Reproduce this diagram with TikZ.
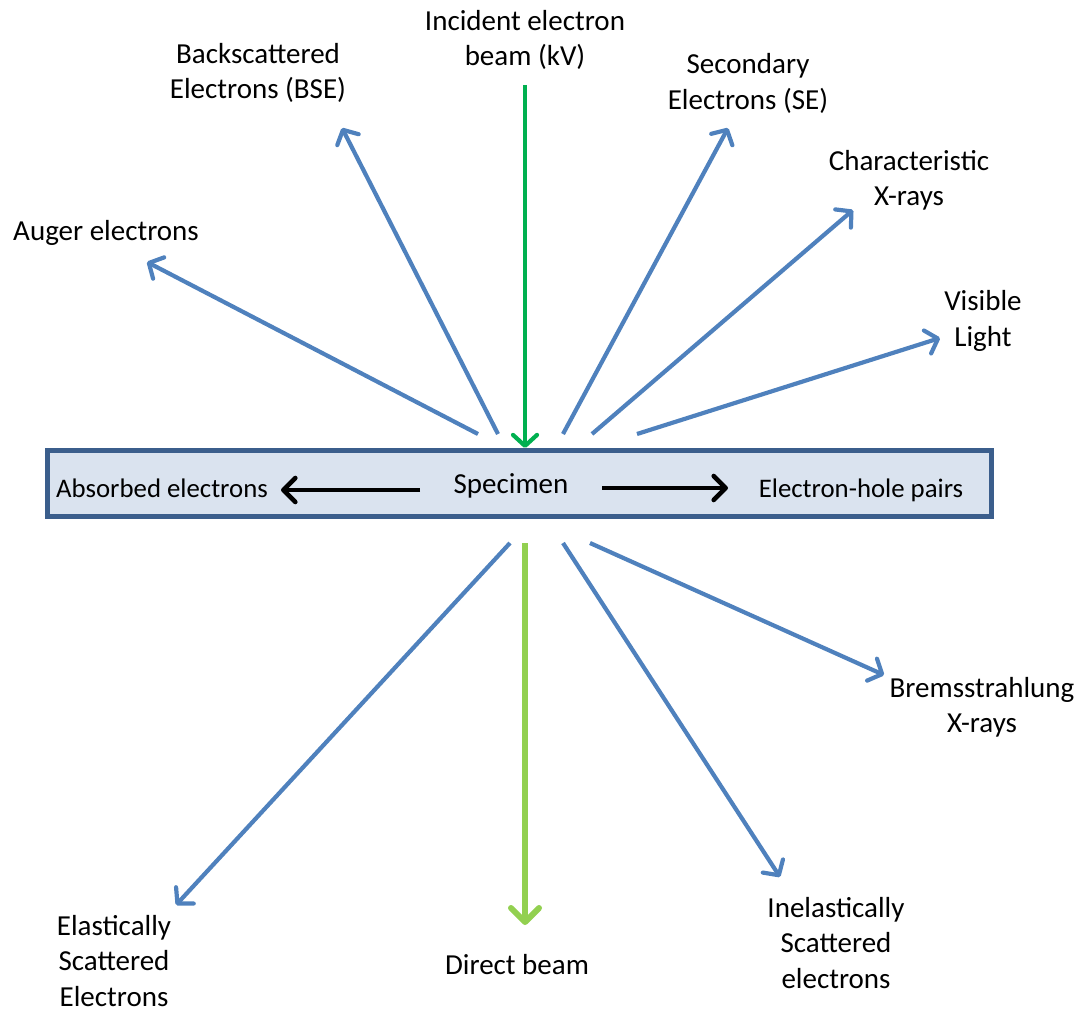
\documentclass[tikz,border=0pt]{standalone}
\usepackage{fontspec}
\setmainfont{Carlito}
\usetikzlibrary{arrows.meta}

\definecolor{beamblue}{HTML}{4F81BD}
\definecolor{incgreen}{HTML}{00B050}
\definecolor{dirgreen}{HTML}{92D050}
\definecolor{boxfill}{HTML}{DAE3EF}
\definecolor{boxline}{HTML}{3B5E8C}

\begin{document}
\begin{tikzpicture}[x=0.5pt,y=-0.5pt]
			\tikzset{ray/.style = {-{Straight Barb[length=5.5pt,width=12pt,line cap=round,line join=round]}, line width=2.1pt, color=beamblue}}
			\tikzset{flow/.style = {-{Straight Barb[length=6pt,width=12pt,line cap=round,line join=round]}, line width=2.3pt, black}}
			\tikzset{lbl/.style = {align=center, inner sep=0pt, font=\fontsize{14.5}{17.75}\selectfont}}
			\tikzset{inlbl/.style = {lbl, font=\fontsize{13.4}{16}\selectfont}}

			\useasboundingbox (0,0) rectangle (1080,1011);

			% specimen
			\node[draw=boxline, fill=boxfill, line width=2.5pt, minimum width=472pt, minimum height=33pt, inner sep=0pt] (spec) at (519.5,483) {};
			\node[lbl] (specimen) at (511,486) {Specimen};
			\node[inlbl] (absorbed) at (162,488) {Absorbed electrons};
			\node[inlbl] (ehp) at (861,490) {Electron-hole pairs};
			\coordinate (a1) at (420,490);
			\coordinate (a2) at (281,490);
			\coordinate (b1) at (602,488);
			\coordinate (b2) at (728,488);
			\draw[flow] (a1) -- (a2);
			\draw[flow] (b1) -- (b2);

			% labels
			\node[lbl] (incident) at (525,40) {Incident electron\\beam (kV)};
			\node[lbl] (bse) at (258,73) {Backscattered\\Electrons (BSE)};
			\node[lbl] (se) at (748,83.5) {Secondary\\Electrons (SE)};
			\node[lbl] (char) at (909,180.5) {Characteristic\\X-rays};
			\node[lbl] (auger) at (106,233) {Auger electrons};
			\node[lbl] (light) at (983,321) {Visible\\Light};
			\node[lbl] (brems) at (982,707.5) {Bremsstrahlung\\X-rays};
			\node[lbl] (inel) at (836,943) {Inelastically\\Scattered\\electrons};
			\node[lbl] (direct) at (517,965) {Direct beam};
			\node[lbl] (elas) at (114,961) {Elastically\\Scattered\\Electrons};

			% ray ends
			\coordinate (inc0) at (525,85);
			\coordinate (inc1) at (525,448);
			\coordinate (dir0) at (525,543);
			\coordinate (dir1) at (525,925);
			\coordinate (aug0) at (478,434);
			\coordinate (aug1) at (147,262);
			\coordinate (bse0) at (498,434);
			\coordinate (bse1) at (342,128);
			\coordinate (se0) at (563,434);
			\coordinate (se1) at (728,128);
			\coordinate (chr0) at (592,434);
			\coordinate (chr1) at (853,210);
			\coordinate (vis0) at (637,434);
			\coordinate (vis1) at (940,338);
			\coordinate (brm0) at (590,543);
			\coordinate (brm1) at (884,675);
			\coordinate (inl0) at (563,543);
			\coordinate (inl1) at (780,877);
			\coordinate (els0) at (510,543);
			\coordinate (els1) at (176,905);

			\draw[ray, color=incgreen] (inc0) -- (inc1);
			\draw[ray, color=dirgreen, line width=3pt, -{Straight Barb[length=7pt,width=14pt,line cap=round,line join=round]}] (dir0) -- (dir1);
			\draw[ray] (aug0) -- (aug1);
			\draw[ray] (bse0) -- (bse1);
			\draw[ray] (se0) -- (se1);
			\draw[ray] (chr0) -- (chr1);
			\draw[ray] (vis0) -- (vis1);
			\draw[ray] (brm0) -- (brm1);
			\draw[ray] (inl0) -- (inl1);
			\draw[ray] (els0) -- (els1);
		\end{tikzpicture}
\end{document}
